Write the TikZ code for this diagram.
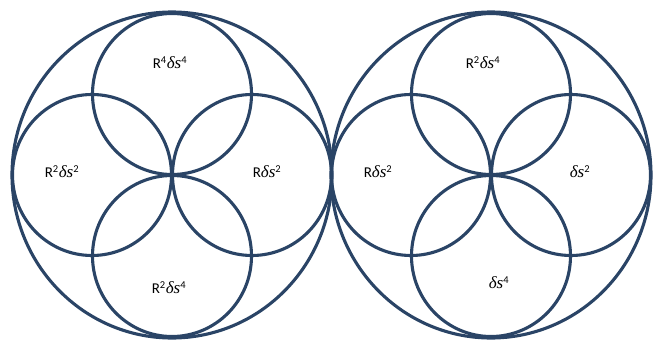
\documentclass[tikz,border=0pt]{standalone}
\usepackage{fontspec}
\setmainfont{Carlito}
\newfontfamily\lsserif{Liberation Serif}
\definecolor{ringblue}{HTML}{2A4466}
\newcommand{\dsv}{{\lsserif\itshape\fontsize{17}{19}\selectfont δs}}
\begin{document}
\begin{tikzpicture}[x=1pt,y=-1pt,
  ring/.style={draw=ringblue, line width=3.1pt},
  lab/.style={font=\fontsize{15}{17}\selectfont, inner sep=0pt, text=black}]
\useasboundingbox (0,0) rectangle (659,340);
\foreach \cx in {172,491}{
  \draw[ring] (\cx,175) ellipse [x radius=160, y radius=163];
  \draw[ring] (\cx,94) ellipse [x radius=79.5, y radius=80.5];
  \draw[ring] (\cx,256) ellipse [x radius=79.5, y radius=80.5];
  \draw[ring] (\cx-80,175) ellipse [x radius=79.5, y radius=80.5];
  \draw[ring] (\cx+80,175) ellipse [x radius=79.5, y radius=80.5];
}
\node[lab] (l1) at (170,63) {R\textsuperscript{4}\dsv\textsuperscript{4}};
\node[lab] (l2) at (62,172) {R\textsuperscript{2}\dsv\textsuperscript{2}};
\node[lab] (l3) at (267,172) {R\dsv\textsuperscript{2}};
\node[lab] (l4) at (169,288) {R\textsuperscript{2}\dsv\textsuperscript{4}};
\node[lab] (r1) at (483,63) {R\textsuperscript{2}\dsv\textsuperscript{4}};
\node[lab] (r2) at (378,172) {R\dsv\textsuperscript{2}};
\node[lab] (r3) at (580,172) {\dsv\textsuperscript{2}};
\node[lab] (r4) at (499,283) {\dsv\textsuperscript{4}};
\end{tikzpicture}
\end{document}
